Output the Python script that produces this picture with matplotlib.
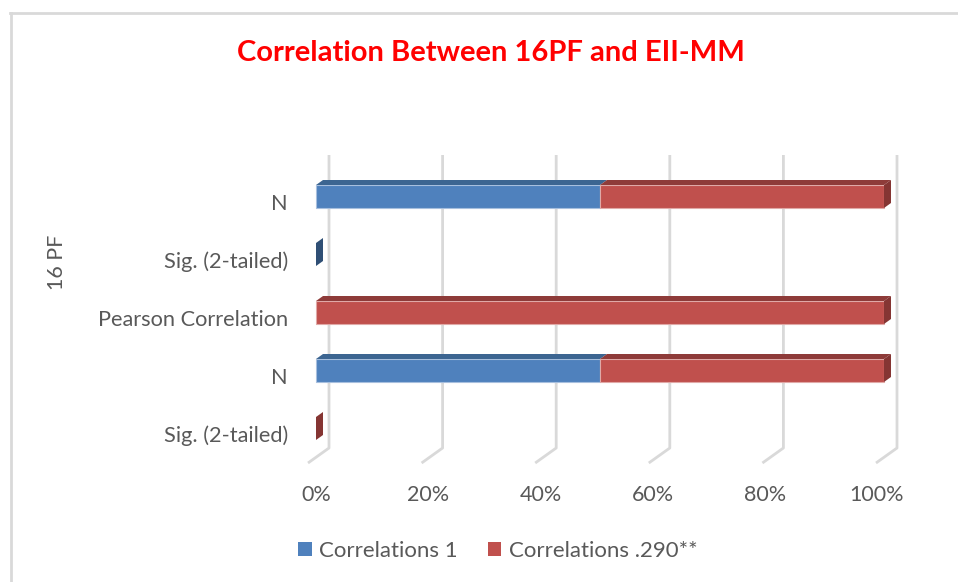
import matplotlib.pyplot as plt
from matplotlib.patches import Polygon, Patch
import numpy as np

# categories bottom -> top, and the two series as percent of each row
# (None = blank cell, 0 = a real zero that Excel still draws as a thin cap)
categories = ["Sig. (2-tailed)", "N", "Pearson Correlation", "Sig. (2-tailed)", "N"]
corr_1 = [None, 50, None, 0, 50]
corr_290 = [0, 50, 100, None, 50]
series_names = ["Correlations 1", "Correlations .290**"]
x_ticks = [0, 20, 40, 60, 80, 100]
title = "Correlation Between 16PF and EII-MM"
y_title = "16 PF"

front_cols = ["#4F81BD", "#C0504D"]
top_cols = ["#3C6591", "#8E3B39"]
side_cols = ["#2F4F75", "#853533"]
grid_col = "#D9D9D9"
text_col = "#595959"

plt.rcParams['font.family'] = ['Lato', 'DejaVu Sans']

W, H = 958, 582
fig = plt.figure(figsize=(W / 100, H / 100), dpi=100)

# axes placed in pixel terms: front plane 0% at x=316, 100% at x=884
px_per_pct = 5.68
px_per_cat = 58.0
left_px, right_px, top_px, bot_px = 300, 910, 150, 470
ax = fig.add_axes([left_px / W, 1 - bot_px / H, (right_px - left_px) / W, (bot_px - top_px) / H])
ax.set_xlim((left_px - 316) / px_per_pct, (right_px - 316) / px_per_pct)
ax.set_ylim((436 - bot_px) / px_per_cat, (436 - top_px) / px_per_cat)
ax.axis('off')

# 3d depth offsets (data units)
dx = 7 / px_per_pct
dy = 5 / px_per_cat
bar_h = 23 / px_per_cat
bar_off = 7.5 / px_per_cat

# back wall gridlines with floor slant
wall_dx = 13 / px_per_pct
floor_dx = -21 / px_per_pct
grid_top = (436 - 155) / px_per_cat
grid_bot = (436 - 448) / px_per_cat
floor_front = (436 - 463) / px_per_cat
for t in x_ticks:
    xb = t + wall_dx
    ax.plot([xb, xb, xb + floor_dx], [grid_top, grid_bot, floor_front],
            color=grid_col, lw=2, solid_capstyle='butt', zorder=1)

# bars
for i, cat in enumerate(categories):
    yc = i + bar_off
    y0, y1 = yc - bar_h / 2, yc + bar_h / 2
    start = 0
    segs = []
    for s, vals in enumerate([corr_1, corr_290]):
        v = vals[i]
        if v is None:
            continue
        segs.append((s, start, start + v))
        start += v
    for k, (s, a, b) in enumerate(segs):
        if b > a:
            ax.add_patch(Polygon([(a, y0), (b, y0), (b, y1), (a, y1)], closed=True,
                                 facecolor=front_cols[s], edgecolor='#A7BFDE' if s == 0 else '#E0A9A7',
                                 lw=0.8, zorder=3))
            ax.add_patch(Polygon([(a, y1), (b, y1), (b + dx, y1 + dy), (a + dx, y1 + dy)], closed=True,
                                 facecolor=top_cols[s], edgecolor='none', zorder=3))
        if k == len(segs) - 1:
            ax.add_patch(Polygon([(b, y0), (b, y1), (b + dx, y1 + dy), (b + dx, y0 + dy)], closed=True,
                                 facecolor=side_cols[s], edgecolor='none', zorder=4))

    ax.text((288 - 316) / px_per_pct, i, cat, ha='right', va='center',
            fontsize=15.7, color=text_col)

# x tick labels under the floor front edge
for t in x_ticks:
    ax.text(t * (877 - 316) / 100 / px_per_pct, (436 - 495) / px_per_cat, f"{t}%",
            ha='center', va='center', fontsize=15.5, color=text_col, clip_on=False)

fig.text(491 / W, 1 - 53 / H, title, ha='center', va='center',
         fontsize=21, fontweight='bold', color='#FF0000')
fig.text(57 / W, 1 - 262 / H, y_title, ha='center', va='center', rotation=90,
         fontsize=15.5, color=text_col)

handles = [Patch(facecolor=front_cols[0]), Patch(facecolor=front_cols[1])]
fig.legend(handles, series_names, loc='center', bbox_to_anchor=(498 / W, 1 - 551 / H),
           ncol=2, frameon=False, fontsize=16, labelcolor=text_col,
           handlelength=0.6, handleheight=0.6, handletextpad=0.35, columnspacing=1.35)

# chart border (only top and left visible in the crop)
fig.add_artist(plt.Line2D([10.5 / W, 10.5 / W], [0, 1 - 13 / H], color='#D9D9D9', lw=2))
fig.add_artist(plt.Line2D([10 / W, 1], [1 - 13 / H, 1 - 13 / H], color='#D9D9D9', lw=2))

fig.savefig("out.png", dpi=100)
